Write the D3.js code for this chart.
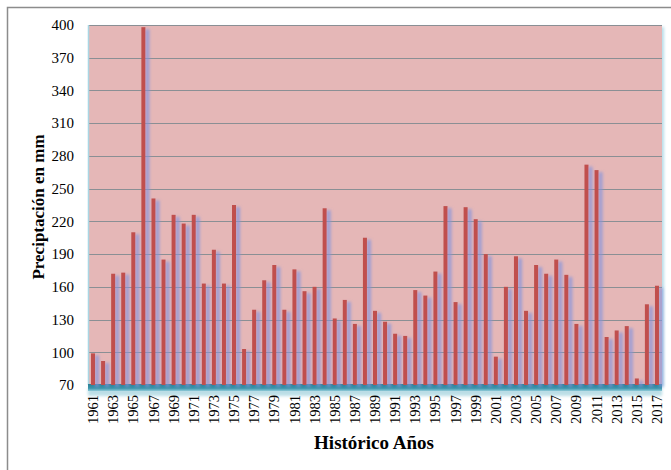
<!doctype html>
<html lang="es">
<head>
<meta charset="UTF-8">
<title>Precipitación histórica 1961-2017</title>
<script src="https://d3js.org/d3.v7.min.js"></script>
<style>
body { margin: 0; background: #fff; font-family: "Liberation Serif", "Times New Roman", serif; }
svg { display: block; }
.axis text { font-family: "Liberation Serif", "Times New Roman", serif; fill: #000; }
.axis path, .axis line { display: none; }
</style>
</head>
<body>
<div id="plot"></div>
<script>

var years = [1961, 1962, 1963, 1964, 1965, 1966, 1967, 1968, 1969, 1970,
	1971, 1972, 1973, 1974, 1975, 1976, 1977, 1978, 1979, 1980,
	1981, 1982, 1983, 1984, 1985, 1986, 1987, 1988, 1989, 1990,
	1991, 1992, 1993, 1994, 1995, 1996, 1997, 1998, 1999, 2000,
	2001, 2002, 2003, 2004, 2005, 2006, 2007, 2008, 2009, 2010,
	2011, 2012, 2013, 2014, 2015, 2016, 2017];

var rainfall = [99, 92, 172, 173, 210, 398, 241, 185, 226, 218,
	226, 163, 194, 163, 235, 103, 139, 166, 180, 139,
	176, 156, 160, 232, 131, 148, 126, 205, 138, 128,
	117, 115, 157, 152, 174, 234, 146, 233, 222, 190,
	96, 160, 188, 138, 180, 172, 185, 171, 126, 272,
	267, 114, 120, 124, 76, 144, 161];

var yTicks = [70, 100, 130, 160, 190, 220, 250, 280, 310, 340, 370, 400];

var width = 671;
var height = 470;
var plotLeft = 88, plotRight = 662, plotTop = 25, plotBottom = 385;

var svg = d3.select("#plot").append("svg")
	.attr("width", width)
	.attr("height", height);

var defs = svg.append("defs");

var shadow = defs.append("filter").attr("id", "barShadow")
	.attr("x", "-100%").attr("y", "-5%").attr("width", "400%").attr("height", "110%");
shadow.append("feGaussianBlur").attr("in", "SourceAlpha").attr("stdDeviation", 1.6).attr("result", "blur");
shadow.append("feOffset").attr("in", "blur").attr("dx", 3.5).attr("dy", 2).attr("result", "off");
shadow.append("feFlood").attr("flood-color", "#8594dc").attr("flood-opacity", 0.75);
shadow.append("feComposite").attr("in2", "off").attr("operator", "in").attr("result", "sh");
var merge = shadow.append("feMerge");
merge.append("feMergeNode").attr("in", "sh");
merge.append("feMergeNode").attr("in", "SourceGraphic");

var floorGrad = defs.append("linearGradient").attr("id", "floorGrad")
	.attr("x1", 0).attr("y1", 0).attr("x2", 0).attr("y2", 1);
floorGrad.append("stop").attr("offset", "0%").attr("stop-color", "#2a7f95");
floorGrad.append("stop").attr("offset", "60%").attr("stop-color", "#3a95ab");
floorGrad.append("stop").attr("offset", "100%").attr("stop-color", "#8fcad8");

var blur = defs.append("filter").attr("id", "soft")
	.attr("x", "-5%").attr("y", "-50%").attr("width", "110%").attr("height", "200%");
blur.append("feGaussianBlur").attr("stdDeviation", 1.5);

// chart border
svg.append("rect")
	.attr("x", 7.5).attr("y", 7.5)
	.attr("width", width + 20).attr("height", height + 20)
	.style("fill", "none")
	.style("stroke", "#8c8c8c")
	.style("stroke-width", 1.5);

var xScale = d3.scaleBand().domain(years)
	.range([plotLeft, plotRight])
	.paddingInner(0.6)
	.paddingOuter(0.3);

var yScale = d3.scaleLinear().domain([70, 400])
	.range([plotBottom, plotTop]);

// back wall
svg.append("rect")
	.attr("x", plotLeft + 2).attr("y", plotTop + 2)
	.attr("width", plotRight - plotLeft).attr("height", plotBottom - plotTop)
	.style("fill", "#b7dde8")
	.attr("filter", "url(#soft)");

svg.append("rect")
	.attr("x", plotLeft).attr("y", plotTop)
	.attr("width", plotRight - plotLeft).attr("height", plotBottom - plotTop)
	.style("fill", "#e5b7b7");

// gridlines
svg.append("g")
	.selectAll("line")
	.data(yTicks.filter(function (d) { return d > 70; }))
	.enter().append("line")
	.attr("x1", plotLeft).attr("x2", plotRight)
	.attr("y1", function (d) { return Math.round(yScale(d)) + 0.5; })
	.attr("y2", function (d) { return Math.round(yScale(d)) + 0.5; })
	.style("stroke", "#8a8f94")
	.style("stroke-width", 1.2);

svg.append("line")
	.attr("x1", plotLeft + 0.5).attr("x2", plotLeft + 0.5)
	.attr("y1", plotTop).attr("y2", plotBottom)
	.style("stroke", "#a9d6e3")
	.style("stroke-width", 1.5);

// floor
svg.append("rect")
	.attr("x", plotLeft).attr("y", plotBottom + 3)
	.attr("width", plotRight - plotLeft).attr("height", 8)
	.style("fill", "#9fd0dc")
	.style("opacity", 0.7)
	.attr("filter", "url(#soft)");

svg.append("rect")
	.attr("x", plotLeft).attr("y", plotBottom - 1)
	.attr("width", plotRight - plotLeft).attr("height", 7)
	.style("fill", "url(#floorGrad)");

// bars
svg.append("g")
	.attr("filter", "url(#barShadow)")
	.selectAll("rect")
	.data(rainfall)
	.enter().append("rect")
	.attr("x", function (d, i) { return xScale(years[i]); })
	.attr("y", function (d) { return yScale(d); })
	.attr("width", xScale.bandwidth())
	.attr("height", function (d) { return yScale(70) - yScale(d); })
	.style("fill", "#c0504d");

var yAxis = d3.axisLeft(yScale)
	.tickValues(yTicks)
	.tickSize(0)
	.tickPadding(14);

svg.append("g")
	.attr("class", "axis")
	.attr("transform", "translate(" + plotLeft + ",0)")
	.call(yAxis)
	.selectAll("text")
	.style("font-size", "15px");

var xAxis = d3.axisBottom(xScale)
	.tickValues(years.filter(function (d, i) { return i % 2 === 0; }))
	.tickSize(0);

svg.append("g")
	.attr("class", "axis")
	.attr("transform", "translate(0," + (plotBottom + 10) + ")")
	.call(xAxis)
	.selectAll("text")
	.style("font-size", "14.5px")
	.attr("transform", "rotate(-90)")
	.attr("text-anchor", "end")
	.attr("x", 0)
	.attr("y", 0)
	.attr("dy", "0.35em");

svg.append("text")
	.attr("transform", "translate(44," + ((plotTop + plotBottom) / 2 + 2) + ") rotate(-90)")
	.attr("text-anchor", "middle")
	.style("font-size", "17px")
	.style("font-weight", "bold")
	.text("Preciptación en mm");

svg.append("text")
	.attr("x", 374)
	.attr("y", 449)
	.attr("text-anchor", "middle")
	.style("font-size", "19px")
	.style("font-weight", "bold")
	.text("Histórico Años");

</script>
</body>
</html>
